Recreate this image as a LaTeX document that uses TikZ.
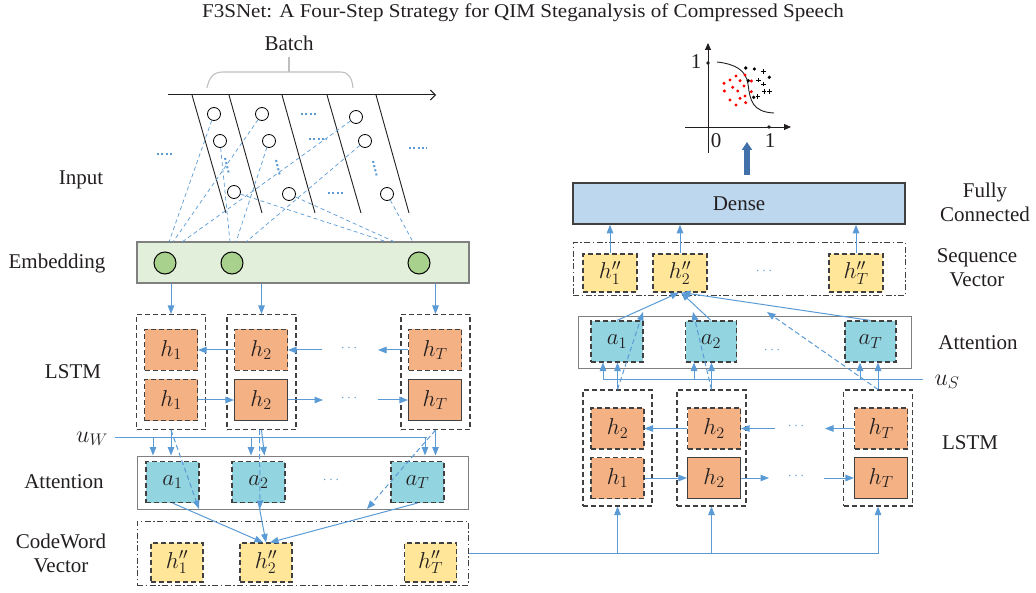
\RequirePackage{fix-cm}
\documentclass[tikz,border=0pt]{standalone}
\usepackage{fontspec}
\usepackage{graphicx}
\setmainfont{Liberation Serif}
\usetikzlibrary{arrows.meta,calc}
\definecolor{lnblue}{RGB}{91,155,213}
\definecolor{orangef}{RGB}{244,177,131}
\definecolor{cyanf}{RGB}{146,212,224}
\definecolor{yellowf}{RGB}{255,230,153}
\definecolor{greenbg}{RGB}{226,239,218}
\definecolor{greenc}{RGB}{169,209,142}
\definecolor{densef}{RGB}{189,215,238}
\definecolor{bigblue}{RGB}{65,113,168}
\definecolor{bordergray}{RGB}{64,64,64}
\definecolor{bracegray}{RGB}{191,191,191}
\definecolor{ink}{RGB}{35,31,32}
\tikzset{
  lbl/.style={font=\fontsize{21}{24}\selectfont, align=center, text=ink},
  cell/.style={minimum width=53pt, minimum height=41pt, inner sep=0pt, line width=1.1pt,
    draw=bordergray, text=ink, font=\fontsize{23}{26}\selectfont},
  dsh/.style={dash pattern=on 5pt off 3pt},
  hcell/.style={cell, fill=orangef},
  acell/.style={cell, fill=cyanf, dsh},
  ccell/.style={cell, fill=yellowf, dsh, minimum width=52pt, minimum height=39pt},
  outerbox/.style={draw=bordergray, line width=1.1pt, dsh, minimum width=69pt, minimum height=115pt, inner sep=0pt},
  layerbox/.style={draw=gray, line width=1pt, inner sep=0pt},
  vecbox/.style={draw=bordergray, line width=1pt, dash pattern=on 6pt off 2.5pt on 1.5pt off 2.5pt, inner sep=0pt},
  arr/.style={draw=lnblue, line width=1pt, -{Triangle[length=8.5pt,width=6.5pt]}},
  link/.style={draw=lnblue, line width=1pt},
  feed/.style={draw=lnblue, line width=0.7pt, dash pattern=on 4pt off 3pt},
  gap/.style={text=lnblue, font=\fontsize{14}{14}\selectfont, inner sep=0pt},
  sample/.style={circle, draw=black, line width=0.8pt, fill=white, minimum size=13pt, inner sep=0pt},
  embc/.style={circle, draw=black, line width=1pt, fill=greenc, minimum size=22pt, inner sep=0pt},
  dotmark/.style={draw=lnblue, line width=2pt, dash pattern=on 2pt off 2.3pt},
}
\begin{document}
\begin{tikzpicture}[x=1pt,y=-1pt]
\useasboundingbox (0,0) rectangle (1036,593);

% title
\node[font=\fontsize{19.5}{22}\selectfont, text=ink, inner sep=0pt] (title) at (523,13)
  {\scalebox{1.08}[1]{F3SNet: A Four-Step Strategy for QIM Steganalysis of Compressed Speech}};

% ---------------- left branch ----------------
\node[lbl] (lin) at (81,180) {Input};
\node[lbl] (lemb) at (57,263) {Embedding};
\node[lbl] (llstm) at (73,372) {LSTM};
\node[lbl] (latt) at (64,482) {Attention};
\node[lbl] (lcw) at (61,553) {CodeWord\\Vector};

% batch brace and time axis
\node[lbl] (batch) at (289,43) {Batch};
\draw[bracegray, line width=1.1pt] (207,88) .. controls (209,78) and (213,72) .. (223,72)
  -- (340,72) .. controls (349,72) and (352,78) .. (353,88);
\draw[bracegray, line width=1.1pt] (289,72) -- (289,57);
\draw[ink, line width=1pt, -{Straight Barb[length=5pt,width=10pt]}] (168,95) -- (436,95);

% frame separators
\foreach \xa/\xb in {192/226, 229/262, 282/315, 327/361, 376/409}
  \draw[ink, line width=0.9pt] (\xa,95) -- (\xb,213);

% ellipsis marks
\draw[dotmark] (157,154) -- (174,154);
\draw[dotmark] (409,148) -- (427,148);
\draw[dotmark] (301,114) -- (318,114);
\draw[dotmark] (309,139) -- (327,139);
\draw[dotmark] (328,193) -- (345,193);
\draw[dotmark] (225,158) -- (229,174);
\draw[dotmark] (276,160) -- (280,176);
\draw[dotmark] (373,161) -- (377,177);

% samples
\node[sample] (s11) at (214,114) {};
\node[sample] (s12) at (262,114) {};
\node[sample] (s13) at (356,117) {};
\node[sample] (s21) at (220,141) {};
\node[sample] (s22) at (269,141) {};
\node[sample] (s23) at (365,141) {};
\node[sample] (s31) at (234,192) {};
\node[sample] (s32) at (289,194) {};
\node[sample] (s33) at (387,194) {};

% embedding layer
\node[draw=gray, line width=1.5pt, fill=greenbg, minimum width=332pt, minimum height=41pt, inner sep=0pt]
  (emb) at (303,262.5) {};
\node[embc] (e1) at (165,263) {};
\node[embc] (e2) at (232,263) {};
\node[embc] (e3) at (419,263) {};

\coordinate (t1) at (169,242);
\coordinate (t2) at (173,242);
\coordinate (t3) at (182,242);
\coordinate (t4) at (230,242);
\coordinate (t5) at (236,242);
\coordinate (t6) at (246,242);
\coordinate (t7) at (387,242);
\coordinate (t8) at (395,242);
\coordinate (t9) at (413,242);
\draw[feed] (s11) -- (t1);
\draw[feed] (s12) -- (t2);
\draw[feed] (s13) -- (t3);
\draw[feed] (s21) -- (t4);
\draw[feed] (s22) -- (t5);
\draw[feed] (s23) -- (t6);
\draw[feed] (s31) -- (t7);
\draw[feed] (s32) -- (t8);
\draw[feed] (s33) -- (t9);

% bidirectional LSTM (left)
\node[outerbox] (L1) at (171,372) {};
\node[outerbox] (L2) at (261.5,372) {};
\node[outerbox] (L3) at (435.5,372) {};
\node[hcell, dsh] (LT1) at (171,350) {$h_1$};
\node[hcell, dsh] (LB1) at (171,400) {$h_1$};
\node[hcell, dsh] (LT2) at (261,350) {$h_2$};
\node[hcell] (LB2) at (261,400) {$h_2$};
\node[hcell, dsh] (LT3) at (435,350) {$h_T$};
\node[hcell] (LB3) at (435,400) {$h_T$};

\draw[arr] (L1.north |- emb.south) -- (L1.north);
\draw[arr] (L2.north |- emb.south) -- (L2.north);
\draw[arr] (L3.north |- emb.south) -- (L3.north);

\coordinate (lg1) at (322,350);
\coordinate (lg2) at (378,350);
\coordinate (lg3) at (323,400);
\coordinate (lg4) at (378,400);
\draw[arr] (LT2.west) -- (LT1.east);
\draw[arr] (lg1) -- (LT2.east);
\node[gap] (ld1) at (349,348) {$\cdots$};
\draw[arr] (LT3.west) -- (lg2);
\draw[arr] (LB1.east) -- (LB2.west);
\draw[arr] (LB2.east) -- (lg3);
\node[gap] (ld2) at (349,398) {$\cdots$};
\draw[arr] (lg4) -- (LB3.west);

% word-level attention
\node[layerbox, minimum width=331pt, minimum height=53pt] (attL) at (302.5,482.5) {};
\node[acell] (a1) at (172.5,482) {$a_1$};
\node[acell] (a2) at (258.5,482) {$a_2$};
\node[acell] (aT) at (417.5,482) {$a_T$};
\node[gap] (ld3) at (331,480) {$\cdots$};

\node[lbl, font=\fontsize{24}{26}\selectfont] (uw) at (92,439) {$u_W$};
\coordinate (uwL) at (115,437);
\coordinate (uw1) at (153,437);
\coordinate (uw2) at (251,437);
\coordinate (uwR) at (425,437);
\draw[link] (uwL) -- ([xshift=2pt]uwR);
\draw[arr] (uw1) -- (uw1 |- attL.north);
\draw[arr] (uw2) -- (uw2 |- attL.north);
\draw[arr] (uwR) -- (uwR |- attL.north);
\draw[arr] (L1.south) -- (L1.south |- attL.north);
\draw[arr] (L2.south) -- ([xshift=3pt]L2.south |- attL.north);
\draw[arr] (L3.south) -- (L3.south |- attL.north);

% codeword vector
\node[vecbox, minimum width=331pt, minimum height=64pt] (cw) at (302.5,553) {};
\node[ccell] (c1) at (177,562.5) {$h''_1$};
\node[ccell] (c2) at (266,562.5) {$h''_2$};
\node[ccell] (cT) at (430.5,562.5) {$h''_T$};

\coordinate (ad1) at (199,509);
\coordinate (ad2) at (260,509);
\coordinate (ad3) at (367,509);
\draw[arr, dsh] (L1.south) -- (ad1);
\draw[arr, dsh] ([xshift=-2pt]L2.south) -- (ad2);
\draw[arr, dsh] (L3.south) -- (ad3);
\draw[arr] (a1.south) -- ([xshift=-3pt]c2.north);
\draw[arr] (a2.south) -- (c2.north);
\draw[arr] (aT.south) -- ([xshift=4pt]c2.north);

% ---------------- right branch ----------------
\node[lbl] (rfc) at (985,202) {Fully\\Connected};
\node[lbl] (rsv) at (977,268) {Sequence\\Vector};
\node[lbl] (ratt) at (978,343) {Attention};
\node[lbl] (rlstm) at (970,443) {LSTM};

% sentence-level LSTM
\node[outerbox, minimum height=116pt] (R1) at (617.5,448) {};
\node[outerbox, minimum height=116pt] (R2) at (711.5,448) {};
\node[outerbox, minimum height=116pt] (R3) at (878,448) {};
\node[hcell, dsh] (RT1) at (617.5,428.5) {$h_2$};
\node[hcell, dsh] (RB1) at (617.5,478) {$h_1$};
\node[hcell, dsh] (RT2) at (714,428.5) {$h_2$};
\node[hcell] (RB2) at (714,478) {$h_2$};
\node[hcell, dsh] (RT3) at (881,428.5) {$h_T$};
\node[hcell] (RB3) at (881,478) {$h_T$};

\coordinate (rg1) at (775,428.5);
\coordinate (rg2) at (825,428.5);
\coordinate (rg3) at (769,478);
\coordinate (rg4) at (824,478);
\draw[arr] (RT2.west) -- (RT1.east);
\draw[arr] (rg1) -- (RT2.east);
\node[gap] (rd1) at (796,426) {$\cdots$};
\draw[arr] (RT3.west) -- (rg2);
\draw[arr] (RB1.east) -- (RB2.west);
\draw[arr] (RB2.east) -- (rg3);
\node[gap] (rd2) at (796,476) {$\cdots$};
\draw[arr] (rg4) -- (RB3.west);

% codewords feed the sentence-level LSTM
\draw[arr] (cw.east) -| (R3.south);
\draw[arr] (R1.south |- cw.east) -- (R1.south);
\draw[arr] (R2.south |- cw.east) -- (R2.south);

% sentence-level attention
\node[layerbox, minimum width=333pt, minimum height=52pt] (attR) at (744.5,343) {};
\node[acell, minimum width=52pt] (ra1) at (617,341.5) {$a_1$};
\node[acell, minimum width=51pt] (ra2) at (711,341.5) {$a_2$};
\node[acell, minimum width=51pt] (raT) at (870.5,341.5) {$a_T$};
\node[gap] (rd3) at (772,350) {$\cdots$};

\node[lbl, font=\fontsize{24}{26}\selectfont] (us) at (947,382) {$u_S$};
\coordinate (usR) at (923,380);
\coordinate (us1) at (603,380);
\coordinate (us2) at (694,380);
\coordinate (us3) at (860,380);
\draw[link] (usR) -- (us1);
\draw[arr] (us1) -- (us1 |- ra1.south);
\draw[arr] (us2) -- (us2 |- ra2.south);
\draw[arr] (us3) -- (us3 |- raT.south);
\draw[arr] (R1.north) -- (R1.north |- ra1.south);
\draw[arr] (R2.north) -- (R2.north |- ra2.south);
\draw[arr] (R3.north) -- (R3.north |- raT.south);

% sequence vector
\node[vecbox, minimum width=332pt, minimum height=53pt] (sv) at (739,269.5) {};
\node[ccell, minimum width=54pt, minimum height=38pt] (s1) at (610,273) {$h''_1$};
\node[ccell, minimum width=54pt, minimum height=38pt] (s2) at (680,273) {$h''_2$};
\node[ccell, minimum width=54pt, minimum height=38pt] (sT) at (856,273) {$h''_T$};
\node[gap] (rd4) at (764,271) {$\cdots$};

\coordinate (rq1) at (643,312);
\coordinate (rq2) at (693,312);
\coordinate (rq3) at (767,312);
\draw[arr, dsh] (R1.north) -- (rq1);
\draw[arr, dsh] (R2.north) -- (rq2);
\draw[arr, dsh] (R3.north) -- (rq3);
\draw[arr] (ra1.north) -- ([xshift=-1pt]s2.south);
\draw[arr] (ra2.north) -- ([xshift=1pt]s2.south);
\draw[arr] (raT.north) -- ([xshift=2pt]s2.south);

% dense layer
\node[draw=bordergray, line width=1.6pt, fill=densef, minimum width=332pt, minimum height=41pt,
  inner sep=0pt, font=\fontsize{21}{24}\selectfont, text=ink] (dense) at (739,203.5) {Dense};
\draw[arr] (s1.north) -- (s1.north |- dense.south);
\draw[arr] (s2.north) -- (s2.north |- dense.south);
\draw[arr] (sT.north) -- (sT.north |- dense.south);

% output plot
\coordinate (pa) at (747,175);
\coordinate (pb) at (747,142);
\draw[bigblue, line width=5.5pt, -{Triangle[length=8pt,width=10pt]}] (pa) -- (pb);

\draw[ink, line width=0.9pt, -{Triangle[length=7pt,width=6pt]}] (708,153) -- (708,43);
\draw[ink, line width=0.9pt, -{Triangle[length=7pt,width=6pt]}] (685,127) -- (791,127);
\fill[ink] (708,63) circle (1.9pt);
\fill[ink] (769,127) circle (1.9pt);
\node[lbl] (py1) at (696,62) {1};
\node[lbl] (px0) at (716,141) {0};
\node[lbl] (px1) at (770,141) {1};
\draw[ink, line width=0.9pt] (717,62) .. controls (735,64) and (746,70) .. (748,84)
  .. controls (750,100) and (752,112) .. (774,113);
\foreach \px/\py in {724/83.3, 730/80, 736/76, 740/80.7, 745/75, 724.3/91, 732.7/87.3,
  737.7/91, 744/86, 730/100, 736/105, 740/98.3, 745/96, 745.7/102.7, 751.3/81, 751.3/91.7}
  \fill[red] (\px,\py) circle (1.7pt);
\foreach \px/\py in {745.7/68, 754.3/69, 769.3/77.3, 748.3/80.7, 753.7/97.3}
  \fill[black] (\px,\py) circle (1.8pt);
\foreach \px/\py in {763.3/71.7, 758.3/80, 763.3/84, 757.7/96.7, 764/91.7, 769.3/91.7}
  \draw[black, line width=0.9pt] (\px-2.2,\py) -- (\px+2.2,\py) (\px,\py-2.2) -- (\px,\py+2.2);
\end{tikzpicture}
\end{document}
